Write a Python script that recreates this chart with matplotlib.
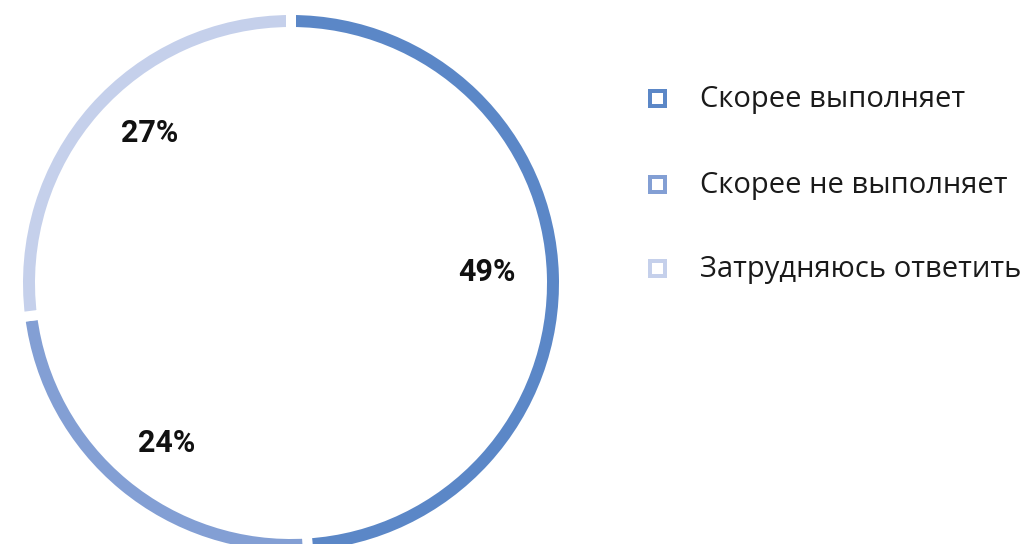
import matplotlib
matplotlib.use("Agg")
import matplotlib.pyplot as plt
from matplotlib.patches import Rectangle

categories = ["Скорее выполняет", "Скорее не выполняет", "Затрудняюсь ответить"]
values = [49, 24, 27]
labels = ["49%", "24%", "27%"]
colors = ["#5B87C7", "#839FD4", "#C5D0EB"]

W, H = 1023, 544
fig = plt.figure(figsize=(W / 100, H / 100), dpi=100)
ax = fig.add_axes([0, 0, 1, 1])

cx, cy = 291, H - 283
gap_pt = 7.2
R = 268 + 5
ring = 12 + 10
wedges, _ = ax.pie(values, colors=colors, startangle=90, counterclock=False,
                   radius=R, center=(cx, cy), frame=True,
                   wedgeprops=dict(width=ring, edgecolor="white", linewidth=gap_pt))
ax.set_xlim(0, W)
ax.set_ylim(0, H)
ax.set_aspect("equal")
ax.axis("off")

label_pos = [(487, 272), (167, 443), (150, 133)]
for (x, y), t in zip(label_pos, labels):
    ax.text(x, H - y, t, fontsize=22, fontweight="semibold", family="Roboto",
            ha="center", va="center", color="#111111")

rows_y = [98, 184, 268]
for yy, name, c in zip(rows_y, categories, colors):
    s = 19
    ax.add_patch(Rectangle((657 - s / 2, H - yy - s / 2), s, s, facecolor=c, edgecolor="none"))
    si = 11
    ax.add_patch(Rectangle((657 - si / 2, H - yy - si / 2), si, si, facecolor="white", edgecolor="none"))
    ax.text(700, H - yy - 2, name, fontsize=21, family="Open Sans", ha="left", va="center",
            color="#1a1a1a")

fig.savefig("out.png", dpi=100)
